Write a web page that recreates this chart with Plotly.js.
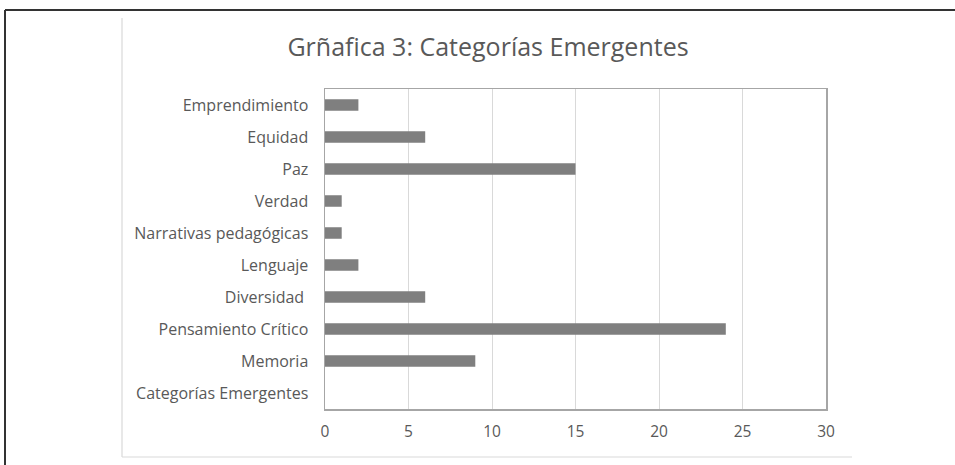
<!DOCTYPE html>
<html>
<head>
<meta charset="utf-8">
<script src="https://cdn.plot.ly/plotly-3.0.1.min.js"></script>
<style>html,body{margin:0;padding:0;background:#fff;}#chart{width:955px;height:465px;}</style>
</head>
<body>
<div id="chart"></div>
<script>
// Categories, bottom to top as drawn
const categories = ["Categorías Emergentes", "Memoria", "Pensamiento Crítico", "Diversidad ", "Lenguaje", "Narrativas pedagógicas", "Verdad", "Paz", "Equidad", "Emprendimiento"];
const values = [null, 9, 24, 6, 2, 1, 1, 15, 6, 2];
const xTicks = [0, 5, 10, 15, 20, 25, 30];
const chartTitle = "Grñafica 3: Categorías Emergentes";

const fontFam = "'Open Sans', Lato, sans-serif";
const trace = {
  type: "bar",
  orientation: "h",
  y: categories,
  x: values,
  width: 0.36,
  marker: {color: "#7f7f7f", line: {width: 0}},
  hoverinfo: "x+y"
};
const W = 955, H = 465, L = 325, R = 129, T = 89, B = 56;
const pw = W - L - R, ph = H - T - B;
const px = v => (v - L) / pw;
const py = v => (H - B - v) / ph;
const layout = {
  width: W, height: H,
  margin: {l: L, r: R, t: T, b: B, pad: 0},
  paper_bgcolor: "#fff", plot_bgcolor: "#fff",
  showlegend: false,
  title: {text: chartTitle, font: {family: fontFam, size: 25, color: "#595959"},
          xref: "container", yref: "container", x: 488 / W, y: 1 - 47 / H, xanchor: "center", yanchor: "middle"},
  xaxis: {range: [0, 30], tickvals: xTicks, ticktext: xTicks.map(String), showgrid: true, gridcolor: "#d9d9d9", gridwidth: 1,
          zeroline: false, showline: true, mirror: true, linecolor: "#a6a6a6", linewidth: 1.5,
          ticks: "", ticklabelstandoff: 8, tickfont: {family: fontFam, size: 15.5, color: "#595959"}, fixedrange: true},
  yaxis: {type: "category", categoryorder: "array", categoryarray: categories, showgrid: false, zeroline: false,
          showline: true, mirror: true, linecolor: "#a6a6a6", linewidth: 1.5, ticks: "", ticklabelstandoff: 12,
          tickfont: {family: fontFam, size: 16, color: "#595959"}, fixedrange: true},
  shapes: [
    {type: "line", xref: "paper", yref: "paper", x0: px(5), x1: px(955), y0: py(10), y1: py(10), line: {color: "#333", width: 2}},
    {type: "line", xref: "paper", yref: "paper", x0: px(5), x1: px(5), y0: py(10), y1: py(465), line: {color: "#333", width: 2}},
    {type: "line", xref: "paper", yref: "paper", x0: px(122), x1: px(122), y0: py(18), y1: py(457), line: {color: "#d9d9d9", width: 1.2}},
    {type: "line", xref: "paper", yref: "paper", x0: px(122), x1: px(852), y0: py(457), y1: py(457), line: {color: "#d9d9d9", width: 1.2}}
  ]
};
Plotly.newPlot("chart", [trace], layout, {displayModeBar: false, staticPlot: true});
</script>
</body>
</html>
